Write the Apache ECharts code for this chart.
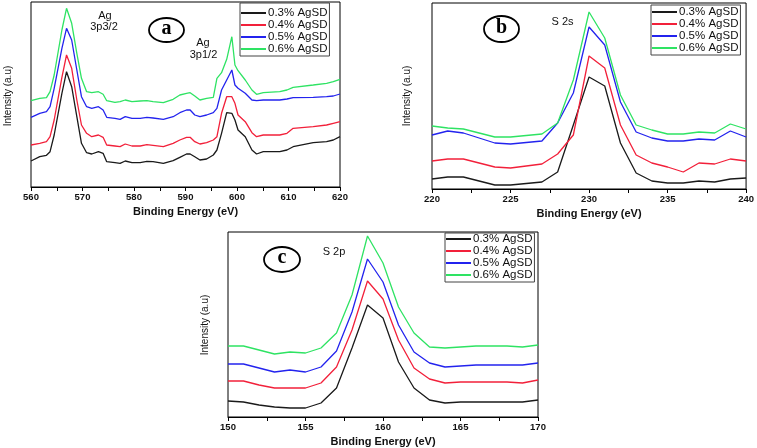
<!DOCTYPE html>
<html><head><meta charset="utf-8">
<script src="https://cdn.jsdelivr.net/npm/echarts@6/dist/echarts.min.js"></script>
<style>html,body{margin:0;padding:0;background:#fff}#c{width:757px;height:448px}</style>
</head><body><div id="c"></div>
<script>
// ---------- data ----------
const seriesNames = ['0.3% AgSD', '0.4% AgSD', '0.5% AgSD', '0.6% AgSD'];
const seriesColors = ['#1a1a1a', '#f2203a', '#2323ee', '#2ee363'];

// Panel a: Ag 3p
const energyA = [560, 561.7, 563, 563.7, 564.5, 566, 566.9, 567.9, 568.9, 569.8, 570.8, 571.8, 573.1, 574, 574.7, 576.3, 577.3, 578.3, 579.6, 581.2, 582.5, 583.7, 585.7, 587.6, 588.9, 590.2,
  590.9, 591.8, 592.8, 594.1, 595.4, 596.1, 597, 598, 599, 599.6, 600.2, 601.6, 602.9, 603.8, 605.1, 608.3, 609.7, 610.9, 614.8, 617.4, 618.7, 620];
const a03 = [25, 29.3, 30.7, 34.3, 51, 92.7, 114.3, 99.3, 69.3, 42.7, 33.3, 32, 34.3, 32.7, 24.3, 23.3, 22.7, 25, 23.3, 23.3, 24.7, 24.3, 22.7, 25.3, 28.7, 32,
  32, 29.3, 26, 27, 31, 36, 52.7, 73.3, 72.7, 66, 56, 49.3, 36, 32, 34.3, 34.3, 36, 39.3, 43.3, 44.3, 46, 49.3];
const a04 = [41, 42.7, 44.3, 49.3, 66, 108.7, 131, 117.7, 86, 61, 52.7, 49.3, 51, 48.7, 41, 40, 39.3, 42, 40, 40, 41.3, 40.7, 39.3, 42.7, 46, 48.7,
  48.7, 44.3, 42, 43.3, 46, 49.3, 72.7, 89.3, 89.3, 82.7, 71, 64.3, 53.3, 49.3, 51, 51, 52.7, 57.7, 59.3, 61, 62.7, 64.3];
const a05 = [68.7, 72.7, 74.3, 79.3, 97.7, 137.7, 157.7, 146, 116, 89.3, 79.3, 77.7, 79.3, 76, 68.7, 67.7, 66.7, 69.3, 67.7, 67.7, 68.7, 68, 66.7, 69.3, 73.3, 76,
  76, 71, 69.3, 71, 73.3, 77.7, 96, 106, 116, 101, 97.7, 92.7, 86, 85.3, 86, 86, 87, 88.3, 88.7, 89.3, 90, 92];
const a06 = [85.3, 87.7, 88.3, 94.3, 111, 156, 177.7, 162.7, 132.7, 107.7, 94.3, 93.3, 94.3, 91.7, 85.3, 83.7, 84.3, 86, 84.3, 85, 85.3, 84.3, 83.3, 86.7, 91, 92.7,
  93.3, 90, 86, 87.7, 88.7, 107.7, 113.3, 126.7, 149.3, 121, 115.3, 106, 96, 91.7, 93.3, 94.3, 96, 98.7, 101, 102.7, 104.3, 106.7];

// Panel b: S 2s
const energyB = [220, 221, 222, 224, 225, 227, 228, 229, 230, 231, 232, 233, 234, 235, 236, 237, 238, 239, 240];
const b03 = [11, 13, 13, 5, 5, 8, 18, 65, 113, 104, 47, 17, 9, 7, 7, 9, 8, 11, 12];
const b04 = [29, 31, 31, 23, 22, 26, 36, 55, 134, 122, 65, 35, 27, 23, 18, 27, 26, 31, 29];
const b05 = [55, 59, 57, 47, 46, 49, 67, 97, 163, 145, 88, 58, 52, 49, 49, 51, 50, 59, 53];
const b06 = [64, 62, 61, 53, 53, 56, 67, 110, 178, 152, 95, 65, 60, 56, 56, 58, 57, 66, 61];

// Panel c: S 2p
const energyC = [150, 151, 152, 153, 154, 155, 156, 157, 158, 159, 160, 161, 162, 163, 164, 165, 166, 167, 168, 169, 170];
const c03 = [16, 15, 12, 10, 9, 9, 14, 29, 69, 112, 99, 55, 29, 17, 14, 15, 15, 15, 15, 15, 17];
const c04 = [36, 36, 32, 29, 29, 29, 34, 50, 87, 136, 118, 77, 49, 38, 34, 35, 35, 35, 35, 34, 37];
const c05 = [53, 53, 49, 45, 47, 45, 50, 66, 105, 158, 135, 92, 65, 54, 50, 51, 52, 52, 52, 52, 54];
const c06 = [71, 71, 67, 63, 65, 64, 69, 84, 122, 181, 154, 110, 84, 70, 69, 70, 71, 71, 71, 70, 72];

const xTitle = 'Binding Energy (eV)';
const yTitle = 'Intensity (a.u)';

// ---------- chart ----------
const FONT = '"Liberation Sans", Arial, sans-serif';
const panels = [
  { E: energyA, V: [a03, a04, a05, a06], grid: { left: 31, top: 2, width: 309, height: 185 }, x: [560, 620, 10], y: [-1, 184],
    legend: { left: 240, top: 3, padding: [4, 2, 1, 1] } },
  { E: energyB, V: [b03, b04, b05, b06], grid: { left: 432, top: 3, width: 316, height: 186 }, x: [220, 240, 5], y: [1, 187],
    legend: { left: 651, top: 5, padding: [1, 2, 1, 1] } },
  { E: energyC, V: [c03, c04, c05, c06], grid: { left: 228, top: 232, width: 310, height: 185 }, x: [150, 170, 5], y: [0, 185],
    legend: { left: 445, top: 233, padding: [0, 2, 1, 1] } }
];

const grids = [], xAxes = [], yAxes = [], series = [], legends = [];
panels.forEach((p, i) => {
  grids.push(Object.assign({ show: true, borderColor: '#000', borderWidth: 1, backgroundColor: 'transparent' }, p.grid));
  xAxes.push({
    type: 'value', gridIndex: i, min: p.x[0], max: p.x[1], interval: p.x[2],
    axisLine: { show: true, onZero: false, lineStyle: { color: '#000', width: 1 } },
    axisTick: { show: true, inside: false, length: 4, lineStyle: { color: '#000', width: 1 } },
    minorTick: { show: true, splitNumber: 2, length: 4, lineStyle: { color: '#000', width: 1 } },
    splitLine: { show: false },
    axisLabel: { fontSize: 9.5, fontWeight: 'bold', color: '#111', margin: 5, fontFamily: FONT },
    name: xTitle, nameLocation: 'middle', nameGap: 19,
    nameTextStyle: { fontSize: 11, fontWeight: 'bold', color: '#111', fontFamily: FONT }
  });
  yAxes.push({
    type: 'value', gridIndex: i, min: p.y[0], max: p.y[1],
    axisLine: { show: false }, axisTick: { show: false }, axisLabel: { show: false }, splitLine: { show: false }
  });
  p.V.forEach((vals, k) => {
    series.push({
      type: 'line', name: seriesNames[k], xAxisIndex: i, yAxisIndex: i,
      data: p.E.map((e, j) => [e, vals[j]]),
      symbol: 'none', showSymbol: false, smooth: false,
      lineStyle: { color: seriesColors[k], width: 1.3 },
      itemStyle: { color: seriesColors[k] },
      z: 2 + k
    });
  });
  legends.push({
    data: seriesNames, orient: 'vertical', left: p.legend.left, top: p.legend.top,
    padding: p.legend.padding, itemGap: 0, itemWidth: 25, itemHeight: 2, icon: 'rect',
    borderColor: '#444', borderWidth: 1, backgroundColor: '#fff', selectedMode: false,
    textStyle: { fontSize: 11.5, lineHeight: 11, color: '#111', fontFamily: FONT, padding: [0, 0, 0, -3] }
  });
});

function ellipse(cx, cy, rx, ry) {
  return { type: 'ellipse', shape: { cx, cy, rx, ry }, style: { fill: 'none', stroke: '#000', lineWidth: 1.8 }, z: 100 };
}
function txt(t, x, y, opts) {
  return { type: 'text', x, y, z: 100, rotation: (opts && opts.rot) || 0,
    style: Object.assign({ text: t, fill: '#111', fontSize: 11, fontFamily: FONT, align: 'center', verticalAlign: 'middle' }, (opts && opts.style) || {}) };
}
const letterStyle = { fontSize: 20, fontWeight: 'bold', fontFamily: '"Liberation Serif", "DejaVu Serif", serif', fill: '#000' };

const graphic = [
  ellipse(166.5, 30, 17.5, 12), txt('a', 166.5, 28.5, { style: letterStyle }),
  ellipse(501.5, 29, 17.5, 13), txt('b', 501.5, 27.5, { style: letterStyle }),
  ellipse(282, 259.5, 18, 12.5), txt('c', 282, 258, { style: letterStyle }),
  txt('Ag', 105, 16), txt('3p3/2', 104, 27),
  txt('Ag', 203, 43), txt('3p1/2', 203.5, 55),
  txt('S 2s', 562.5, 22),
  txt('S 2p', 334, 252),
  txt(yTitle, 8.5, 96, { rot: Math.PI / 2, style: { fontSize: 10 } }),
  txt(yTitle, 407, 96, { rot: Math.PI / 2, style: { fontSize: 10 } }),
  txt(yTitle, 205, 325, { rot: Math.PI / 2, style: { fontSize: 10 } })
];

const chart = echarts.init(document.getElementById('c'), null, { renderer: 'canvas' });
chart.setOption({
  animation: false,
  backgroundColor: '#fff',
  grid: grids, xAxis: xAxes, yAxis: yAxes, series, legend: legends, graphic
});
</script>
</body></html>
